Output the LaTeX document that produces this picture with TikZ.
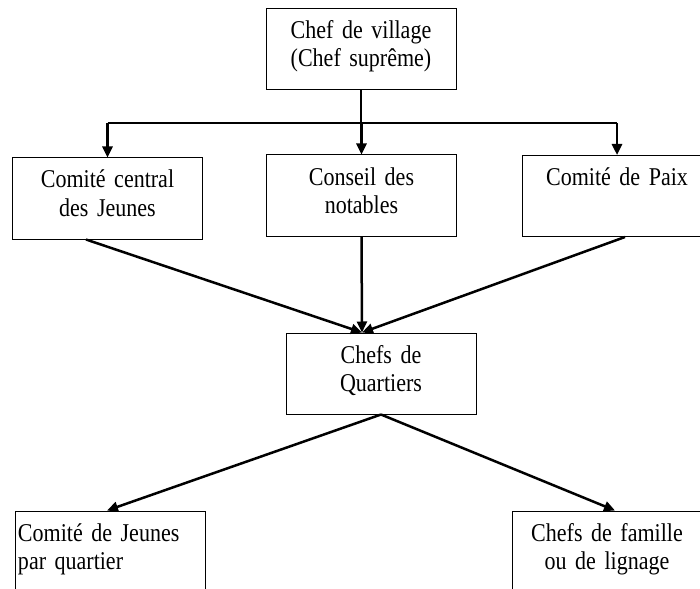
\documentclass[tikz,border=0pt]{standalone}
\usepackage{fontspec}
\setmainfont{Liberation Serif}[FakeStretch=0.86, WordSpace=0.8]
\usetikzlibrary{arrows, arrows.meta}
\usetikzlibrary{calc}

\begin{document}
\begin{tikzpicture}[x=0.5pt, y=-0.5pt,
    box/.style={draw, line width=0.5pt, inner sep=0pt, text width=95pt, align=center, text height=15pt, text depth=25.5pt, font=\fontsize{12.8}{14}\selectfont},
    arr/.style={-{Triangle[length=5.5pt, width=5pt]}, line width=1.25pt}]
  \path[use as bounding box, clip] (0,0) rectangle (700,588);

  \node[box] (1) at (361,49.5) {Chef de village\\(Chef suprême)};
  \node[box] (2) at (107.5,198.5) {Comité central\\des Jeunes};
  \node[box] (3) at (361.5,195.5) {Conseil des\\notables};
  \node[box] (4) at (617,196) {Comité de Paix};
  \node[box] (5) at (381,373.5) {Chefs de\\Quartiers};
  \node[box, align=left, text width=92pt, inner xsep=1.5pt] (6) at (110,551.5) {Comité de Jeunes\\par quartier};
  \node[box] (7) at (607,551.5) {Chefs de famille\\ou de lignage};

  \coordinate (b) at (361,123);
  \coordinate (t) at ([xshift=-9.5pt]5.north);

  \draw[line width=0.6pt] (1) -- (b);
  \draw[line width=0.6pt] (2.north |- b) -- (4.north |- b);
  \foreach \n in {2,3,4}
    \draw[arr] (\n.north |- b) -- (\n.north);

  \draw[arr] ([xshift=-10.75pt]2.south) -- (t);
  \draw[arr] (3.south) -- (t);
  \draw[arr] ([xshift=4pt]4.south) -- (t);
  \draw[arr] (5.south) -- ([xshift=-1.5pt]6.north);
  \draw[arr] (5.south) -- ([xshift=4pt]7.north);
\end{tikzpicture}
\end{document}
